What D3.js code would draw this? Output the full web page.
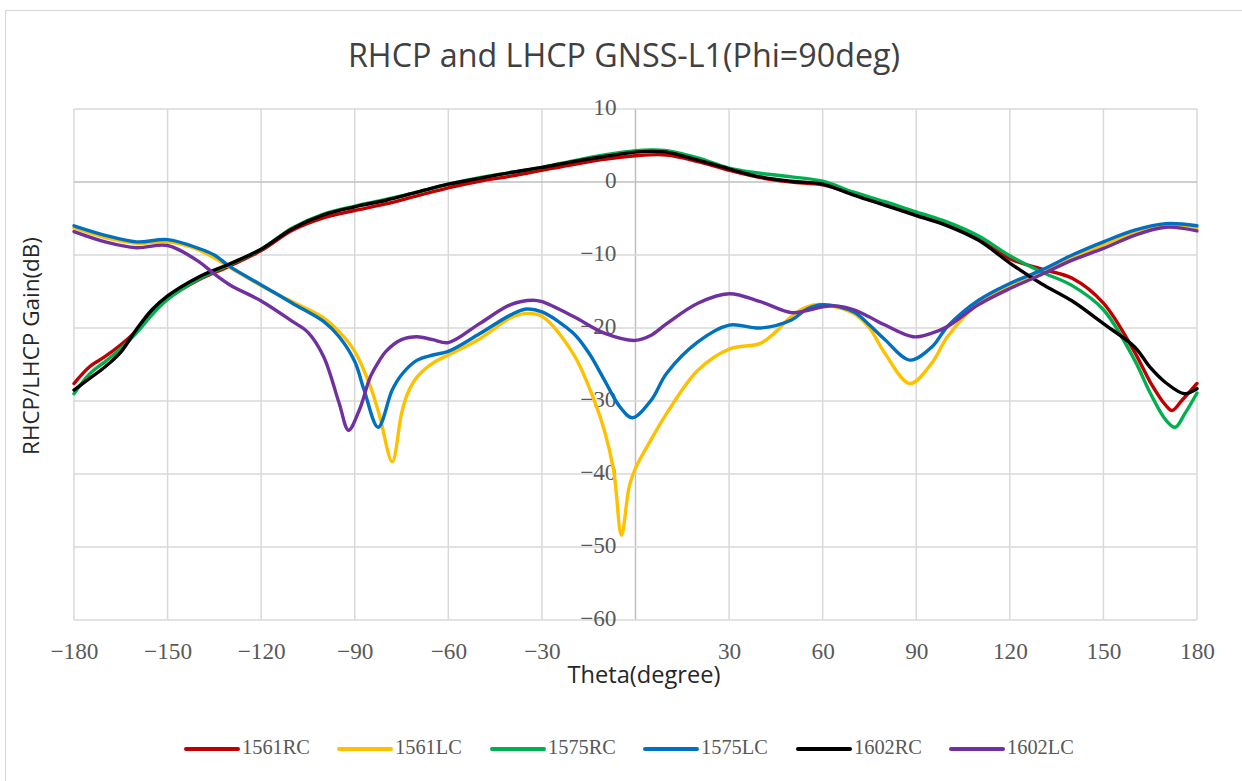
<!DOCTYPE html>
<html>
<head>
<meta charset="utf-8">
<script src="https://cdn.jsdelivr.net/npm/d3@7"></script>
<style>
  html, body { margin: 0; padding: 0; background: #fff; }
  svg { display: block; }
</style>
</head>
<body>
<svg id="chart" width="1242" height="781"></svg>
<script>
// Gain patterns, theta in degrees, gain in dB: [theta, gain]
const rc1561 = [[-180,-27.6],[-175,-25.3],[-170,-23.9],[-165,-22.3],[-160,-20.4],[-155,-18.1],[-150,-16.0],[-140,-13.4],[-130,-11.5],[-120,-9.4],[-110,-6.6],[-100,-4.9],[-90,-3.9],[-80,-3.0],[-70,-1.9],[-60,-0.8],[-50,0.1],[-40,0.8],[-30,1.6],[-20,2.4],[-10,3.1],[0,3.6],[10,3.7],[20,2.8],[30,1.6],[40,0.6],[50,0.0],[60,-0.4],[70,-1.7],[80,-3.1],[90,-4.4],[100,-5.8],[110,-7.6],[120,-10.5],[130,-11.9],[140,-13.2],[150,-16.6],[160,-23.3],[165,-27.4],[170,-30.6],[172,-31.3],[175,-30.0],[180,-27.6]];
const lc1561 = [[-180,-6.3],[-170,-7.6],[-160,-8.4],[-150,-8.2],[-140,-9.3],[-130,-11.7],[-120,-14.2],[-110,-16.4],[-100,-18.6],[-95,-20.5],[-90,-23.2],[-85,-28.0],[-82,-32.1],[-78,-38.3],[-75,-31.7],[-73,-28.9],[-70,-26.7],[-65,-24.8],[-60,-23.7],[-50,-21.5],[-40,-18.6],[-35,-18.0],[-30,-18.4],[-20,-23.5],[-15,-28.0],[-10,-34.0],[-7,-39.5],[-4.5,-48.4],[-2,-41.7],[0,-39.2],[5,-35.3],[10,-31.7],[20,-25.8],[30,-22.9],[40,-22.1],[45,-20.5],[50,-18.4],[55,-17.1],[60,-16.8],[70,-18.0],[75,-20.0],[80,-23.5],[88,-27.6],[95,-24.8],[100,-21.2],[110,-16.6],[120,-14.2],[130,-12.4],[140,-10.4],[150,-8.6],[160,-6.9],[170,-6.0],[180,-6.3]];
const rc1575 = [[-180,-29.0],[-175,-26.3],[-170,-24.6],[-165,-22.8],[-160,-20.7],[-155,-18.2],[-150,-16.1],[-140,-13.3],[-130,-11.3],[-120,-9.2],[-110,-6.3],[-100,-4.4],[-90,-3.3],[-80,-2.4],[-70,-1.4],[-60,-0.3],[-50,0.6],[-40,1.3],[-30,2.0],[-20,2.9],[-10,3.7],[0,4.3],[5,4.4],[10,4.3],[20,3.3],[30,1.9],[40,1.2],[50,0.7],[60,0.1],[70,-1.4],[80,-2.7],[90,-4.1],[100,-5.5],[110,-7.4],[120,-10.1],[130,-12.3],[140,-14.2],[150,-17.5],[160,-24.4],[165,-28.9],[170,-32.6],[173,-33.6],[176,-31.8],[180,-28.9]];
const lc1575 = [[-180,-6.0],[-170,-7.3],[-160,-8.2],[-150,-7.9],[-140,-9.1],[-135,-10.0],[-130,-11.6],[-120,-14.1],[-110,-16.6],[-100,-19.1],[-95,-21.2],[-90,-24.6],[-87,-28.5],[-82.5,-33.6],[-78,-28.5],[-75,-26.4],[-70,-24.4],[-65,-23.7],[-60,-23.2],[-50,-20.8],[-40,-18.2],[-35,-17.4],[-30,-17.8],[-20,-20.7],[-15,-23.4],[-10,-27.1],[-5,-30.8],[-1,-32.3],[5,-29.9],[10,-26.2],[20,-21.9],[30,-19.6],[40,-20.0],[50,-18.9],[55,-17.4],[60,-16.8],[70,-17.8],[75,-19.6],[80,-21.6],[88,-24.4],[95,-22.6],[100,-19.8],[110,-16.2],[120,-13.9],[130,-12.1],[140,-10.0],[150,-8.2],[160,-6.6],[170,-5.7],[180,-6.0]];
const rc1602 = [[-180,-28.5],[-175,-26.9],[-170,-25.3],[-165,-23.3],[-160,-20.2],[-155,-17.5],[-150,-15.6],[-140,-13.0],[-130,-11.2],[-120,-9.2],[-110,-6.4],[-100,-4.5],[-90,-3.4],[-80,-2.5],[-70,-1.4],[-60,-0.3],[-50,0.5],[-40,1.3],[-30,2.0],[-20,2.8],[-10,3.5],[0,4.1],[5,4.2],[10,4.1],[20,3.0],[30,1.8],[40,0.7],[50,0.1],[60,-0.3],[70,-1.8],[80,-3.2],[90,-4.6],[100,-6.0],[110,-8.0],[120,-11.1],[130,-13.9],[140,-16.3],[150,-19.4],[160,-22.6],[165,-25.4],[170,-27.5],[176,-29.0],[180,-28.3]];
const lc1602 = [[-180,-6.8],[-170,-8.2],[-160,-9.0],[-150,-8.7],[-140,-10.9],[-135,-12.6],[-130,-14.1],[-120,-16.3],[-110,-19.1],[-105,-20.6],[-100,-23.9],[-95,-30.3],[-92,-34.0],[-88.5,-31.2],[-85,-26.7],[-82,-24.4],[-80,-23.2],[-75,-21.6],[-70,-21.2],[-65,-21.6],[-60,-22.0],[-50,-19.4],[-40,-16.8],[-33,-16.2],[-30,-16.4],[-20,-18.4],[-10,-20.7],[0,-21.7],[5,-21.0],[10,-19.4],[20,-16.6],[30,-15.3],[40,-16.4],[50,-17.9],[55,-17.6],[60,-17.1],[65,-17.0],[70,-17.5],[75,-18.5],[80,-19.6],[89,-21.2],[95,-20.7],[100,-19.8],[110,-16.8],[120,-14.6],[130,-12.7],[140,-10.7],[150,-9.1],[160,-7.3],[170,-6.2],[180,-6.7]];

const seriesNames = ["1561RC", "1561LC", "1575RC", "1575LC", "1602RC", "1602LC"];
const seriesValues = [rc1561, lc1561, rc1575, lc1575, rc1602, lc1602];
const seriesColors = ["#C00000", "#FFC000", "#00B050", "#0070C0", "#000000", "#7030A0"];

const xTicks = [-180, -150, -120, -90, -60, -30, 0, 30, 60, 90, 120, 150, 180];
// the 0 label sits under the vertical axis and is not printed
const xTickLabels = [-180, -150, -120, -90, -60, -30, 30, 60, 90, 120, 150, 180];
const yTicks = [10, 0, -10, -20, -30, -40, -50, -60];

const titleText = "RHCP and LHCP GNSS-L1(Phi=90deg)";
const xTitleText = "Theta(degree)";
const yTitleText = "RHCP/LHCP Gain(dB)";

const svg = d3.select("#chart");
const W = 1242, H = 781;
const plot = { left: 74, right: 1197, top: 109, bottom: 620 };

const x = d3.scaleLinear().domain([-180, 180]).range([plot.left, plot.right]);
const y = d3.scaleLinear().domain([-60, 10]).range([plot.bottom, plot.top]);

const sans = "'Open Sans', 'Noto Sans', sans-serif";
const serif = "'Liberation Serif', 'DejaVu Serif', serif";
const minus = s => String(s).replace("-", "\u2212");

// scale a text node's font size so its rendered width matches `w`
function fitWidth(sel, w) {
  const n = sel.node();
  const fs = parseFloat(sel.attr("font-size"));
  const len = n.getComputedTextLength();
  if (len > 0) sel.attr("font-size", (fs * w / len).toFixed(2));
  return sel;
}

// outer chart frame
svg.append("rect")
  .attr("x", 5.5).attr("y", 10.5)
  .attr("width", W).attr("height", H)
  .attr("fill", "#fff").attr("stroke", "#d9d9d9").attr("stroke-width", 1.2);

// grid
const grid = svg.append("g");
grid.selectAll("line.v").data(xTicks).join("line")
  .attr("x1", d => x(d)).attr("x2", d => x(d))
  .attr("y1", plot.top).attr("y2", plot.bottom)
  .attr("stroke", d => d === 0 ? "#bfbfbf" : "#d9d9d9")
  .attr("stroke-width", 1.5);
grid.selectAll("line.h").data(yTicks).join("line")
  .attr("x1", plot.left).attr("x2", plot.right)
  .attr("y1", d => y(d)).attr("y2", d => y(d))
  .attr("stroke", d => d === 0 ? "#bfbfbf" : "#d9d9d9")
  .attr("stroke-width", 1.5);

// x tick labels along the bottom
const xAxis = d3.axisBottom(x).tickValues(xTickLabels).tickSize(0).tickPadding(0)
  .tickFormat(d => minus(d));
const gx = svg.append("g").attr("transform", `translate(0,${plot.bottom + 34})`).call(xAxis);
gx.select(".domain").remove();
gx.selectAll("text")
  .attr("font-family", serif).attr("font-size", 22).attr("fill", "#595959")
  .attr("dy", 0).attr("y", 0).attr("dominant-baseline", "middle");
{
  const ref = gx.selectAll("text").filter(d => d === -180);
  const fs0 = parseFloat(ref.attr("font-size"));
  const len = ref.node().getComputedTextLength();
  const fs = fs0 * 48 / len;
  gx.selectAll("text").attr("font-size", fs.toFixed(2));
}
const tickFont = gx.select("text").attr("font-size");

// y tick labels beside the theta = 0 axis
const yAxis = d3.axisLeft(y).tickValues(yTicks).tickSize(0).tickPadding(0)
  .tickFormat(d => minus(d));
const gy = svg.append("g").attr("transform", `translate(${x(0) - 19},0)`).call(yAxis);
gy.select(".domain").remove();
gy.selectAll("text")
  .attr("font-family", serif).attr("font-size", tickFont).attr("fill", "#595959")
  .attr("dy", 0).attr("x", 0).attr("dominant-baseline", "middle");

// series
const line = d3.line()
  .x(d => x(d[0])).y(d => y(d[1]))
  .curve(d3.curveCatmullRom.alpha(0.5));
const gLines = svg.append("g");
seriesValues.forEach((vals, i) => {
  gLines.append("path")
    .datum(vals)
    .attr("d", line)
    .attr("fill", "none")
    .attr("stroke", seriesColors[i])
    .attr("stroke-width", 3.4)
    .attr("stroke-linejoin", "round")
    .attr("stroke-linecap", "round");
});

// titles
const title = svg.append("text")
  .attr("x", 624).attr("y", 58)
  .attr("text-anchor", "middle").attr("dominant-baseline", "middle")
  .attr("font-family", sans).attr("font-size", 26).attr("fill", "#404040")
  .text(titleText);
fitWidth(title, 552);

const xTitle = svg.append("text")
  .attr("x", 644).attr("y", 677)
  .attr("text-anchor", "middle").attr("dominant-baseline", "middle")
  .attr("font-family", sans).attr("font-size", 18).attr("fill", "#262626")
  .text(xTitleText);
fitWidth(xTitle, 153);

const yTitle = svg.append("text")
  .attr("transform", "translate(33,346) rotate(-90)")
  .attr("text-anchor", "middle").attr("dominant-baseline", "middle")
  .attr("font-family", sans).attr("font-size", 18).attr("fill", "#262626")
  .text(yTitleText);
fitWidth(yTitle, 218);

// legend
const legend = svg.append("g");
const legendX = d3.scaleLinear().domain([0, 1]).range([186, 339]);
const items = legend.selectAll("g").data(seriesNames).join("g")
  .attr("transform", (d, i) => `translate(${legendX(i)},749)`);
items.append("line")
  .attr("x1", 0).attr("x2", 52).attr("y1", 0).attr("y2", 0)
  .attr("stroke", (d, i) => seriesColors[i])
  .attr("stroke-width", 4).attr("stroke-linecap", "round");
const legendTexts = items.append("text")
  .attr("x", 56).attr("y", 0)
  .attr("dominant-baseline", "middle")
  .attr("font-family", serif).attr("font-size", 20).attr("fill", "#595959")
  .text(d => d);
{
  const n = legendTexts.node();
  const len = n.getComputedTextLength();
  legendTexts.attr("font-size", (20 * 68 / len).toFixed(2));
}
</script>
</body>
</html>
